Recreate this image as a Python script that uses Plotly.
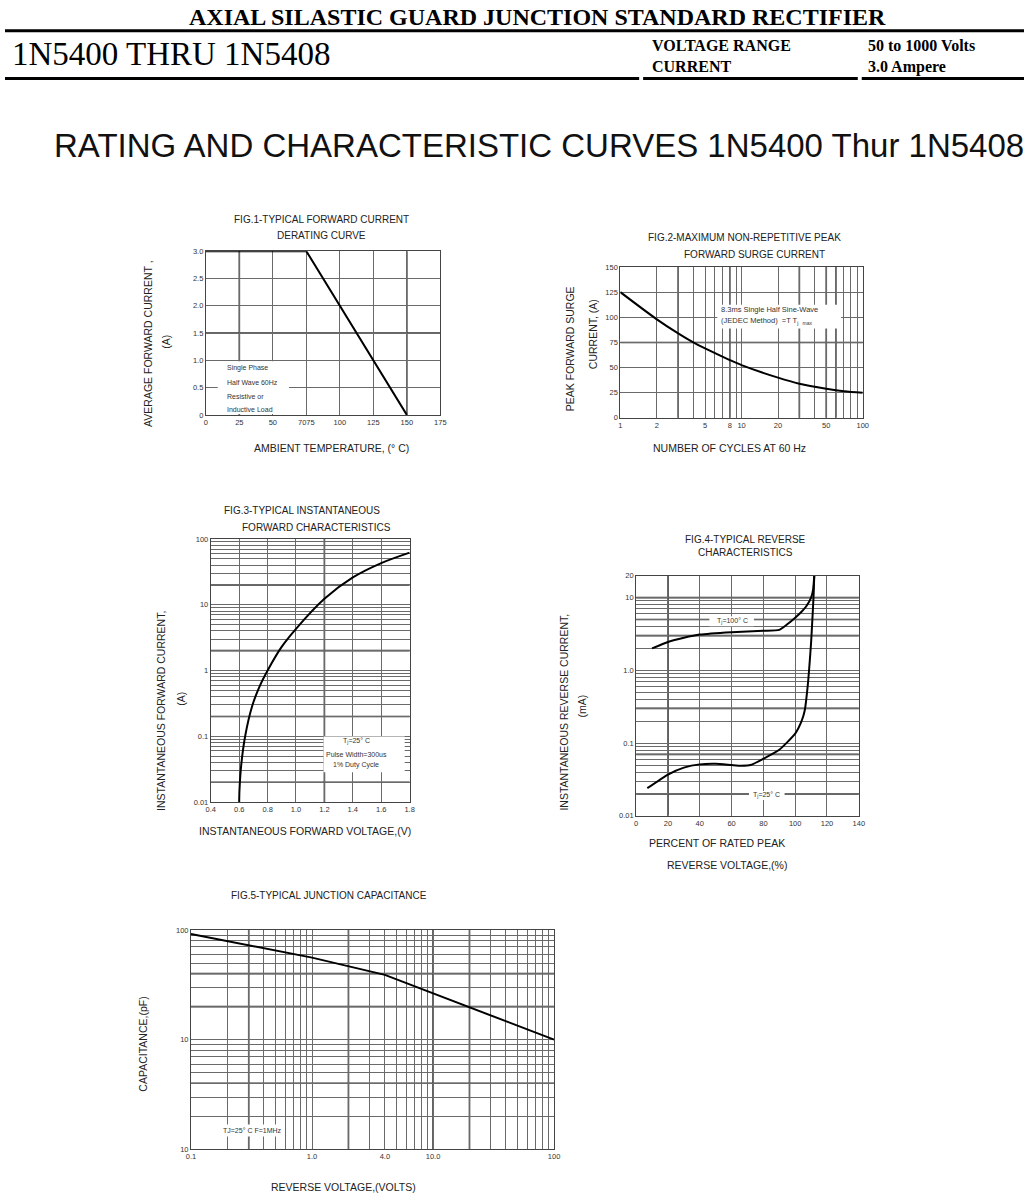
import plotly.graph_objects as go

# FIG.1 derating curve
fig1_temp = [0, 75, 150]
fig1_amps = [3.0, 3.0, 0.0]
fig1_xticks = [0, 25, 50, 75, 100, 125, 150, 175]
fig1_xlabels = ["0", "25", "50", "7075", "100", "125", "150", "175"]
fig1_yticks = [0, 0.5, 1.0, 1.5, 2.0, 2.5, 3.0]
fig1_ylabels = ["0", "0.5", "1.0", "1.5", "2.0", "2.5", "3.0"]

# FIG.2 surge current
fig2_cycles = [1, 2, 3, 4, 5, 8, 10, 20, 30, 50, 70, 100]
fig2_surge = [125, 98, 84, 75, 69, 57.5, 52.5, 40, 34, 29, 26.5, 25]
fig2_xticks = [1, 2, 5, 8, 10, 20, 50, 100]
fig2_yticks = [0, 25, 50, 75, 100, 125, 150]

# FIG.3 forward characteristics
fig3_volts = [0.6, 0.602, 0.614, 0.642, 0.692, 0.74, 0.8, 0.9, 1.0, 1.2, 1.4, 1.6, 1.8]
fig3_amps = [0.01, 0.015, 0.036, 0.1, 0.29, 0.55, 1.0, 2.3, 4.3, 12.3, 26, 43, 62]
fig3_xticks = [0.4, 0.6, 0.8, 1.0, 1.2, 1.4, 1.6, 1.8]
fig3_yticks = [0.01, 0.1, 1, 10, 100]
fig3_ylabels = ["0.01", "0.1", "1", "10", "100"]

# FIG.4 reverse characteristics
fig4_pct_100 = [10, 20, 30, 40, 60, 80, 90, 95, 100, 104, 107, 110, 111.3, 112]
fig4_ma_100 = [2.0, 2.45, 2.8, 3.1, 3.35, 3.5, 3.6, 4.3, 5.3, 6.4, 7.6, 10, 13, 20]
fig4_pct_25 = [7, 20, 30, 40, 50, 60, 66, 72, 80, 90, 100, 104, 106, 108, 109, 110, 111, 111.6, 112]
fig4_ma_25 = [0.024, 0.037, 0.046, 0.051, 0.052, 0.050, 0.049, 0.050, 0.061, 0.081,
              0.135, 0.2, 0.28, 0.65, 1.2, 2.4, 6, 11, 20]
fig4_xticks = [0, 20, 40, 60, 80, 100, 120, 140]
fig4_yticks = [0.01, 0.1, 1, 10, 20]
fig4_ylabels = ["0.01", "0.1", "1.0", "10", "20"]

# FIG.5 junction capacitance
fig5_volts = [0.1, 1.0, 4.0, 10, 20, 100]
fig5_pf = [92, 56, 39, 26.5, 20, 10]
fig5_xticks = [0.1, 1, 4, 10, 100]
fig5_xlabels = ["0.1", "1.0", "4.0", "10.0", "100"]
fig5_yticks = [1, 10, 100]
fig5_ylabels = ["10", "10", "100"]

W, H = 1030, 1200
SANS = "Liberation Sans, Arial, sans-serif"
SERIF = "Liberation Serif, Times New Roman, serif"


def px(x):
    return x / W


def py(y):
    return 1 - y / H


def log_grid(lo, hi, top=None):
    vals = [m * 10 ** e for e in range(lo, hi) for m in range(1, 10)]
    vals.append(10 ** hi)
    if top is not None:
        vals = [v for v in vals if v <= top]
    return vals


def axis(dom, anchor, **kw):
    a = dict(domain=dom, anchor=anchor, showline=True, mirror=True, linecolor="#444",
             linewidth=1, showgrid=True, gridcolor="#6a6a6a", gridwidth=0.7,
             zeroline=False, ticks="", fixedrange=True,
             tickfont=dict(family=SANS, size=7.5, color="#333"))
    a.update(kw)
    return a


def minor_grid(vals):
    return dict(tickmode="array", tickvals=vals, showgrid=True, ticks="",
                gridcolor="#6a6a6a", gridwidth=0.7)


fig = go.Figure()
curve = dict(color="black", width=2)

fig.add_trace(go.Scatter(x=fig1_temp, y=fig1_amps, mode="lines", line=curve,
                         xaxis="x", yaxis="y"))
fig.add_trace(go.Scatter(x=fig2_cycles, y=fig2_surge, mode="lines",
                         line=dict(curve, shape="spline", smoothing=0.8),
                         xaxis="x2", yaxis="y2"))
fig.add_trace(go.Scatter(x=fig3_volts, y=fig3_amps, mode="lines",
                         line=dict(curve, shape="spline", smoothing=0.8),
                         xaxis="x3", yaxis="y3"))
fig.add_trace(go.Scatter(x=fig4_pct_100, y=fig4_ma_100, mode="lines",
                         line=dict(curve, shape="spline", smoothing=0.5),
                         xaxis="x4", yaxis="y4"))
fig.add_trace(go.Scatter(x=fig4_pct_25, y=fig4_ma_25, mode="lines",
                         line=dict(curve, shape="spline", smoothing=0.5),
                         xaxis="x4", yaxis="y4"))
fig.add_trace(go.Scatter(x=fig5_volts, y=fig5_pf, mode="lines", line=curve,
                         xaxis="x5", yaxis="y5"))
fig.update_traces(showlegend=False, hoverinfo="skip")

fig.update_layout(
    width=W, height=H, margin=dict(l=0, r=0, t=0, b=0),
    paper_bgcolor="white", plot_bgcolor="white", showlegend=False,
    xaxis=axis([px(203), px(440)], "y", range=[0, 175], tickmode="array",
               tickvals=fig1_xticks, ticktext=fig1_xlabels),
    yaxis=axis([py(414), py(249)], "x", range=[0, 3], tickmode="array",
               tickvals=fig1_yticks, ticktext=fig1_ylabels),
    xaxis2=axis([px(622), px(867)], "y2", type="log", range=[0, 2], tickmode="array",
                tickvals=fig2_xticks, ticktext=[str(v) for v in fig2_xticks],
                minor=minor_grid(log_grid(0, 2))),
    yaxis2=axis([py(417), py(265)], "x2", range=[0, 150], tickmode="array",
                tickvals=fig2_yticks, ticktext=[str(v) for v in fig2_yticks]),
    xaxis3=axis([px(208), px(409)], "y3", range=[0.4, 1.8], tickmode="array",
                tickvals=fig3_xticks, ticktext=["%.1f" % v for v in fig3_xticks]),
    yaxis3=axis([py(804), py(539)], "x3", type="log", range=[-2, 2], tickmode="array",
                tickvals=fig3_yticks, ticktext=fig3_ylabels,
                minor=minor_grid(log_grid(-2, 2))),
    xaxis4=axis([px(638), px(863)], "y4", range=[0, 140], tickmode="array",
                tickvals=fig4_xticks, ticktext=[str(v) for v in fig4_xticks]),
    yaxis4=axis([py(818), py(576)], "x4", type="log", range=[-2, 1.30103], tickmode="array",
                tickvals=fig4_yticks, ticktext=fig4_ylabels,
                minor=minor_grid(log_grid(-2, 2, top=20))),
    xaxis5=axis([px(188), px(555)], "y5", type="log", range=[-1, 2], tickmode="array",
                tickvals=fig5_xticks, ticktext=fig5_xlabels,
                minor=minor_grid(log_grid(-1, 2))),
    yaxis5=axis([py(1154), py(933)], "x5", type="log", range=[0, 2], tickmode="array",
                tickvals=fig5_yticks, ticktext=fig5_ylabels,
                minor=minor_grid(log_grid(0, 2))),
)

# heavier grid lines as printed on the sheet
heavy = [
    ("x", [25, 150], "y", [1.5]),
    ("x2", [3, 8, 30, 50, 60], "y2", [75]),
    ("x3", [1.2], "y3", [0.02, 0.2, 2, 20]),
    ("x4", [20], "y4", [0.02, 0.07, 0.3, 3, 5, 10]),
    ("x5", [0.3, 2, 10, 20], "y5", [4, 20, 40]),
]
for xr, xs, yr, ys in heavy:
    for v in xs:
        fig.add_shape(type="line", xref=xr, yref=yr + " domain", x0=v, x1=v, y0=0, y1=1,
                      line=dict(color="#333", width=1.6), layer="below")
    for v in ys:
        fig.add_shape(type="line", xref=xr + " domain", yref=yr, x0=0, x1=1, y0=v, y1=v,
                      line=dict(color="#333", width=1.6), layer="below")

# white label boxes inside the plots (pixel rectangles)
boxes = [(215, 360, 287, 413), (720, 303, 845, 327), (322, 738, 404, 774),
         (712, 617, 757, 627), (752, 793, 788, 802), (217, 1129, 283, 1141)]
for x0, y0, x1, y1 in boxes:
    fig.add_shape(type="rect", xref="paper", yref="paper", x0=px(x0), x1=px(x1),
                  y0=py(y1), y1=py(y0), fillcolor="white", line=dict(width=0), layer="above")

# header rules
for x0, x1, y in [(0, 1030, 27), (0, 641, 75), (645, 862, 75), (866, 1030, 75)]:
    fig.add_shape(type="line", xref="paper", yref="paper", x0=px(x0), x1=px(x1),
                  y0=py(y), y1=py(y), line=dict(color="black", width=3))


def label(x, y, text, size=10.5, family=SANS, angle=0, xanchor="center", color="#222",
          bold=False):
    if bold:
        text = "<b>" + text + "</b>"
    fig.add_annotation(x=px(x), y=py(y), xref="paper", yref="paper", text=text,
                       showarrow=False, textangle=angle, xanchor=xanchor, yanchor="middle",
                       font=dict(family=family, size=size, color=color))


# header
label(538, 13, "AXIAL SILASTIC GUARD JUNCTION STANDARD RECTIFIER", 24, SERIF,
      color="black", bold=True)
label(5, 50, "1N5400 THRU 1N5408", 33, SERIF, xanchor="left", color="black")
label(652, 42, "VOLTAGE RANGE", 16, SERIF, xanchor="left", color="black", bold=True)
label(652, 63, "CURRENT", 16, SERIF, xanchor="left", color="black", bold=True)
label(870, 42, "50 to 1000 Volts", 16, SERIF, xanchor="left", color="black", bold=True)
label(870, 63, "3.0 Ampere", 16, SERIF, xanchor="left", color="black", bold=True)
label(48, 143, "RATING AND CHARACTERISTIC CURVES 1N5400 Thur 1N5408", 33, SANS,
      xanchor="left", color="#111")

# FIG.1
label(320, 217, "FIG.1-TYPICAL FORWARD CURRENT", 10)
label(320, 233, "DERATING CURVE", 10)
label(145, 342, "AVERAGE FORWARD CURRENT ,", angle=-90)
label(163, 340, "(A)", angle=-90)
label(330, 447, "AMBIENT TEMPERATURE, (° C)")
for i, t in enumerate(["Single Phase", "Half Wave 60Hz", "Resistive or", "Inductive Load"]):
    label(222, 367 + i * 14, t, 7, xanchor="left", color="#333")

# FIG.2
label(747, 235, "FIG.2-MAXIMUM NON-REPETITIVE PEAK", 10)
label(758, 252, "FORWARD SURGE CURRENT", 10)
label(572, 347, "PEAK FORWARD SURGE", angle=-90)
label(594, 333, "CURRENT, (A)", angle=-90)
label(732, 447, "NUMBER OF CYCLES AT 60 Hz")
label(722, 308, "8.3ms Single Half Sine-Wave", 7.5, xanchor="left", color="#333")
label(722, 319, "(JEDEC Method)  =T T<sub>j</sub>  <sub><span style='font-size:5px'>max</span></sub>",
      7.5, xanchor="left", color="#333")

# FIG.3
label(300, 510, "FIG.3-TYPICAL INSTANTANEOUS", 10)
label(315, 527, "FORWARD CHARACTERISTICS", 10)
label(157, 712, "INSTANTANEOUS FORWARD CURRENT,", angle=-90)
label(178, 700, "(A)", angle=-90)
label(303, 833, "INSTANTANEOUS FORWARD VOLTAGE,(V)")
label(355, 743, "T<sub>j</sub>=25° C", 7, color="#333")
label(355, 756, "Pulse Width=300us", 7, color="#333")
label(355, 767, "1% Duty Cycle", 7, color="#333")

# FIG.4
label(748, 540, "FIG.4-TYPICAL REVERSE", 10)
label(748, 553, "CHARACTERISTICS", 10)
label(565, 713, "INSTANTANEOUS REVERSE CURRENT,", angle=-90)
label(583, 707, "(mA)", angle=-90)
label(720, 845, "PERCENT OF RATED PEAK")
label(730, 868, "REVERSE VOLTAGE,(%)")
label(735, 622, "T<sub>j</sub>=100° C", 7, color="#333")
label(770, 797, "T<sub>j</sub>=25° C", 7, color="#333")

# FIG.5
label(327, 898, "FIG.5-TYPICAL JUNCTION CAPACITANCE", 10)
label(140, 1048, "CAPACITANCE,(pF)", angle=-90)
label(342, 1192, "REVERSE VOLTAGE,(VOLTS)")
label(250, 1135, "TJ=25° C F=1MHz", 7, color="#333")

fig.write_html("out.html", config={"displayModeBar": False},
               post_script="document.body.style.margin='0';")
